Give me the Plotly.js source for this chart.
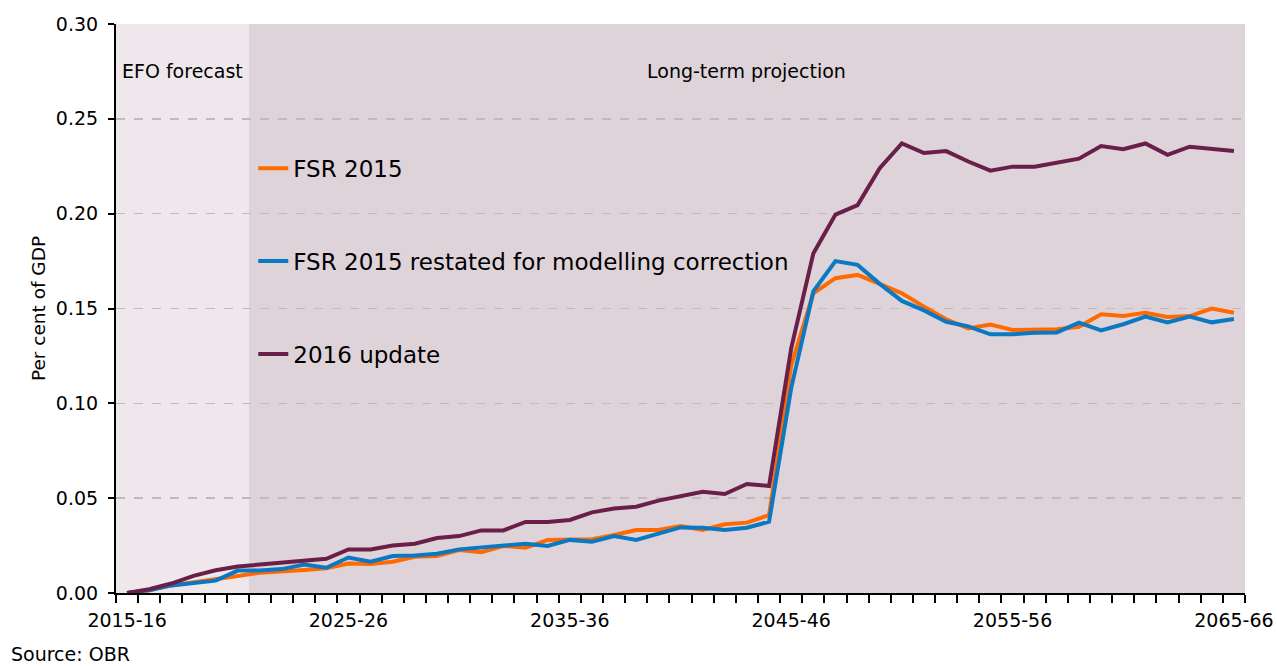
<!DOCTYPE html>
<html>
<head>
<meta charset="utf-8">
<script src="https://cdn.plot.ly/plotly-3.0.1.min.js"></script>
<style>
  html, body { margin: 0; padding: 0; background: #ffffff; }
  #chart { width: 1277px; height: 666px; }
</style>
</head>
<body>
<div id="chart"></div>
<script>
// Financial years 2015-16 .. 2065-66
const years = [];
for (let y = 2015; y <= 2065; y++) {
  years.push(y + '-' + String((y + 1) % 100).padStart(2, '0'));
}
const labelledYears = ['2015-16', '2025-26', '2035-36', '2045-46', '2055-56', '2065-66'];
const efoLastYear = '2020-21';

const fsr2015 = [
  0.000, 0.0015, 0.004, 0.0055, 0.007, 0.009, 0.0107, 0.0112, 0.0121, 0.013,
  0.0155, 0.0153, 0.0165, 0.0191, 0.0195, 0.0227, 0.0215, 0.0248, 0.0239, 0.028,
  0.0283, 0.0283, 0.0306, 0.0332, 0.0332, 0.0353, 0.0332, 0.0362, 0.0371, 0.0411,
  0.120, 0.158, 0.166, 0.1677, 0.163, 0.158, 0.151, 0.1443, 0.1395, 0.1415,
  0.1387, 0.139, 0.139, 0.1404, 0.147, 0.146, 0.1478, 0.1455, 0.146, 0.150,
  0.1478
];
const fsr2015Restated = [
  0.000, 0.0015, 0.004, 0.0055, 0.0065, 0.0118, 0.0118, 0.0126, 0.0150, 0.0133,
  0.0187, 0.0165, 0.0195, 0.0198, 0.0207, 0.023, 0.024, 0.0253, 0.026, 0.0248,
  0.028, 0.027, 0.030, 0.028, 0.0315, 0.0346, 0.0344, 0.0332, 0.0344, 0.0376,
  0.108, 0.159, 0.175, 0.173, 0.163, 0.154, 0.149, 0.143, 0.1406, 0.1364,
  0.1364, 0.1372, 0.1374, 0.1425, 0.1385, 0.1417, 0.1457, 0.1427, 0.1457, 0.1427,
  0.1445
];
const update2016 = [
  0.000, 0.002, 0.005, 0.009, 0.012, 0.014, 0.015, 0.016, 0.017, 0.018,
  0.023, 0.023, 0.025, 0.026, 0.029, 0.030, 0.033, 0.033, 0.0375, 0.0375,
  0.0385, 0.0425, 0.0445, 0.0455, 0.0487, 0.0508, 0.0534, 0.0522, 0.0575, 0.0564,
  0.129, 0.179, 0.1995, 0.2045, 0.224, 0.237, 0.232, 0.233, 0.2275, 0.2227,
  0.2248, 0.2248, 0.2269, 0.229, 0.2357, 0.234, 0.237, 0.231, 0.2353, 0.234,
  0.233
];

const FONT = '"DejaVu Sans", "Open Sans", sans-serif';
const efoEnd = years.indexOf(efoLastYear) + 0.5;
const lastEdge = years.length - 0.5;

const traces = [
  { name: 'FSR 2015', y: fsr2015, color: '#FF6A00', group: 'a' },
  { name: 'FSR 2015 restated for modelling correction', y: fsr2015Restated, color: '#0A78C2', group: 'b' },
  { name: '2016 update', y: update2016, color: '#6A1F48', group: 'c' }
].map(t => ({
  type: 'scatter', mode: 'lines', x: years, y: t.y, name: t.name,
  legendgroup: t.group,
  line: { color: t.color, width: 4 }
}));

const layout = {
  width: 1277, height: 666,
  margin: { l: 116, r: 32, t: 24, b: 73 },
  paper_bgcolor: '#ffffff',
  plot_bgcolor: '#ffffff',
  font: { family: FONT, color: '#000000', size: 19 },
  showlegend: true,
  legend: {
    x: 0.1216, y: 0.583, xanchor: 'left', yanchor: 'middle',
    bgcolor: 'rgba(0,0,0,0)', font: { size: 23, family: FONT, color: '#000' },
    traceorder: 'grouped', tracegroupgap: 60, itemwidth: 30
  },
  xaxis: {
    type: 'category',
    range: [-0.5, lastEdge],
    tickmode: 'array',
    tickvals: years,
    ticktext: years.map(y => labelledYears.includes(y) ? y : ''),
    tickson: 'boundaries',
    ticks: 'outside', ticklen: 8, tickwidth: 2, tickcolor: '#000',
    ticklabelstandoff: 9,
    showline: true, linecolor: '#000', linewidth: 2,
    showgrid: false, zeroline: false,
    tickangle: 0,
    tickfont: { size: 19, family: FONT }
  },
  yaxis: {
    range: [0, 0.30], dtick: 0.05, tickformat: '.2f',
    ticksuffix: '\u00a0',
    ticks: 'outside', ticklen: 6, tickwidth: 2, tickcolor: '#000',
    showline: true, linecolor: '#000', linewidth: 2,
    showgrid: true, gridcolor: '#c3b8bf', griddash: 'dash', gridwidth: 1.5,
    zeroline: false,
    tickfont: { size: 19, family: FONT },
    title: { text: 'Per cent of GDP', font: { size: 18.5, family: FONT }, standoff: 5 }
  },
  shapes: [
    { type: 'rect', layer: 'below', xref: 'x', yref: 'paper',
      x0: -0.5, x1: efoEnd, y0: 0, y1: 1,
      fillcolor: '#EEE8EC', line: { width: 0 } },
    { type: 'rect', layer: 'below', xref: 'x', yref: 'paper',
      x0: efoEnd, x1: lastEdge, y0: 0, y1: 1,
      fillcolor: '#DFD3DA', line: { width: 0 } }
  ],
  annotations: [
    { text: 'EFO forecast', xref: 'x', yref: 'paper',
      x: (efoEnd - 0.5) / 2, y: 0.917, xanchor: 'center', yanchor: 'middle', showarrow: false,
      font: { size: 19, family: FONT } },
    { text: 'Long-term projection', xref: 'x', yref: 'paper',
      x: (efoEnd + lastEdge) / 2, y: 0.917, xanchor: 'center', yanchor: 'middle', showarrow: false,
      font: { size: 19, family: FONT } },
    { text: 'Source: OBR', xref: 'paper', yref: 'paper',
      x: -0.0948, y: -0.107, xanchor: 'left', yanchor: 'middle', showarrow: false,
      font: { size: 19, family: FONT } }
  ]
};

Plotly.newPlot('chart', traces, layout, { displayModeBar: false, staticPlot: true });
</script>
</body>
</html>
